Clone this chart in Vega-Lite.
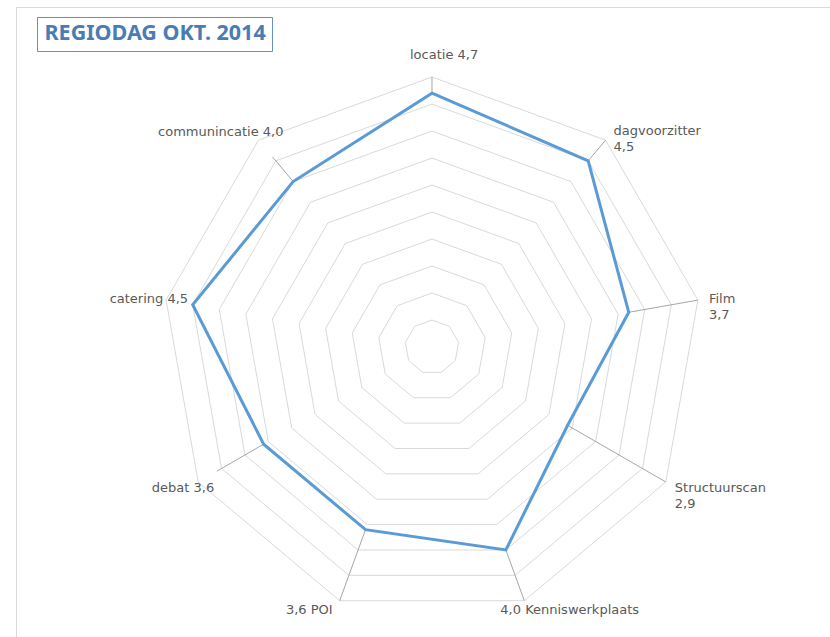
{
  "$schema": "https://vega.github.io/schema/vega-lite/v6.json",
  "width": 814,
  "height": 630,
  "autosize": {"type": "none"},
  "padding": {"left": 16, "top": 7, "right": 0, "bottom": 0},
  "background": "white",
  "config": {
    "view": {"stroke": "#d9d9d9", "strokeWidth": 1},
    "text": {"font": "DejaVu Sans", "fontSize": 13, "fill": "#595959", "baseline": "middle", "lineHeight": 16}
  },
  "datasets": {
    "scores": [
      {"item": "locatie", "score": 4.7},
      {"item": "dagvoorzitter", "score": 4.5},
      {"item": "Film", "score": 3.7},
      {"item": "Structuurscan", "score": 2.9},
      {"item": "Kenniswerkplaats", "score": 4.0},
      {"item": "POI", "score": 3.6},
      {"item": "debat", "score": 3.6},
      {"item": "catering", "score": 4.5},
      {"item": "communincatie", "score": 4.0}
    ],
    "rings": [
      {"level": 0.5, "spoke": [0, 1, 2, 3, 4, 5, 6, 7, 8]},
      {"level": 1.0, "spoke": [0, 1, 2, 3, 4, 5, 6, 7, 8]},
      {"level": 1.5, "spoke": [0, 1, 2, 3, 4, 5, 6, 7, 8]},
      {"level": 2.0, "spoke": [0, 1, 2, 3, 4, 5, 6, 7, 8]},
      {"level": 2.5, "spoke": [0, 1, 2, 3, 4, 5, 6, 7, 8]},
      {"level": 3.0, "spoke": [0, 1, 2, 3, 4, 5, 6, 7, 8]},
      {"level": 3.5, "spoke": [0, 1, 2, 3, 4, 5, 6, 7, 8]},
      {"level": 4.0, "spoke": [0, 1, 2, 3, 4, 5, 6, 7, 8]},
      {"level": 4.5, "spoke": [0, 1, 2, 3, 4, 5, 6, 7, 8]},
      {"level": 5.0, "spoke": [0, 1, 2, 3, 4, 5, 6, 7, 8]}
    ]
  },
  "layer": [
    {
      "data": {"name": "rings"},
      "transform": [
        {"flatten": ["spoke"]},
        {"calculate": "datum.spoke * 2 * PI / 9", "as": "ang"},
        {"calculate": "datum.level * sin(datum.ang)", "as": "rx"},
        {"calculate": "datum.level * cos(datum.ang)", "as": "ry"}
      ],
      "mark": {"type": "line", "interpolate": "linear-closed", "color": "#d9d9d9", "strokeWidth": 1},
      "encoding": {
        "x": {"field": "rx", "type": "quantitative", "scale": {"domain": [-7.7037, 7.3704], "nice": false, "zero": false}, "axis": null},
        "y": {"field": "ry", "type": "quantitative", "scale": {"domain": [-5.3704, 6.2963], "nice": false, "zero": false}, "axis": null},
        "detail": {"field": "level", "type": "quantitative"},
        "order": {"field": "spoke", "type": "quantitative"}
      }
    },
    {
      "data": {"name": "scores"},
      "transform": [
        {"window": [{"op": "row_number", "as": "rn"}]},
        {"calculate": "(datum.rn - 1) * 2 * PI / 9", "as": "ang"},
        {"calculate": "datum.score * sin(datum.ang)", "as": "px"},
        {"calculate": "datum.score * cos(datum.ang)", "as": "py"},
        {"calculate": "5 * sin(datum.ang)", "as": "lx"},
        {"calculate": "5 * cos(datum.ang)", "as": "ly"},
        {"calculate": "replace(format(datum.score, '.1f'), '.', ',')", "as": "val"},
        {"calculate": "datum.item + ' ' + datum.val", "as": "labA"},
        {"calculate": "datum.item + '\\n' + datum.val", "as": "labB"},
        {"calculate": "datum.val + ' ' + datum.item", "as": "labC"}
      ],
      "layer": [
        {
          "transform": [
            {"filter": "datum.item !== 'catering'"},
            {"calculate": "datum.rn >= 7 ? 4.6 : 5.0", "as": "le"},
            {"calculate": "datum.le * sin(datum.ang)", "as": "ex"},
            {"calculate": "datum.le * cos(datum.ang)", "as": "ey"}
          ],
          "mark": {"type": "rule", "color": "#a6a6a6", "strokeWidth": 1},
          "encoding": {
            "x": {"field": "px", "type": "quantitative", "scale": {"domain": [-7.7037, 7.3704], "nice": false, "zero": false}, "axis": null},
            "y": {"field": "py", "type": "quantitative", "scale": {"domain": [-5.3704, 6.2963], "nice": false, "zero": false}, "axis": null},
            "x2": {"field": "ex"},
            "y2": {"field": "ey"}
          }
        },
        {
          "mark": {"type": "line", "interpolate": "linear-closed", "strokeWidth": 3},
          "encoding": {
            "x": {"field": "px", "type": "quantitative", "scale": {"domain": [-7.7037, 7.3704], "nice": false, "zero": false}, "axis": null},
            "y": {"field": "py", "type": "quantitative", "scale": {"domain": [-5.3704, 6.2963], "nice": false, "zero": false}, "axis": null},
            "order": {"field": "rn", "type": "quantitative"},
            "color": {
              "datum": "REGIODAG OKT. 2014",
              "type": "nominal",
              "scale": {"range": ["#5b9bd5"]},
              "legend": {
                "title": null,
                "orient": "none",
                "legendX": 21,
                "legendY": 10,
                "padding": 6,
                "strokeColor": "#6a8fc4",
                "fillColor": "white",
                "cornerRadius": 0,
                "symbolType": "circle",
                "symbolSize": 0,
                "symbolStrokeWidth": 0,
                "symbolOpacity": 0,
                "labelOffset": -20,
                "labelFont": "Noto Sans",
                "labelFontWeight": "bold",
                "labelFontSize": 21.5,
                "labelColor": "#4a7bb7",
                "labelLimit": 500
              }
            }
          }
        },
        {
          "transform": [{"filter": "datum.rn == 1"}],
          "mark": {"type": "text", "align": "left", "dx": -22, "dy": -22},
          "encoding": {
            "x": {"field": "lx", "type": "quantitative", "scale": {"domain": [-7.7037, 7.3704], "nice": false, "zero": false}, "axis": null},
            "y": {"field": "ly", "type": "quantitative", "scale": {"domain": [-5.3704, 6.2963], "nice": false, "zero": false}, "axis": null},
            "text": {"field": "labA"}
          }
        },
        {
          "transform": [{"filter": "datum.rn == 2"}],
          "mark": {"type": "text", "align": "left", "dx": 8, "dy": -9, "lineBreak": "\n"},
          "encoding": {
            "x": {"field": "lx", "type": "quantitative", "scale": {"domain": [-7.7037, 7.3704], "nice": false, "zero": false}, "axis": null},
            "y": {"field": "ly", "type": "quantitative", "scale": {"domain": [-5.3704, 6.2963], "nice": false, "zero": false}, "axis": null},
            "text": {"field": "labB"}
          }
        },
        {
          "transform": [{"filter": "datum.rn == 3"}],
          "mark": {"type": "text", "align": "left", "dx": 11, "dy": -1, "lineBreak": "\n"},
          "encoding": {
            "x": {"field": "lx", "type": "quantitative", "scale": {"domain": [-7.7037, 7.3704], "nice": false, "zero": false}, "axis": null},
            "y": {"field": "ly", "type": "quantitative", "scale": {"domain": [-5.3704, 6.2963], "nice": false, "zero": false}, "axis": null},
            "text": {"field": "labB"}
          }
        },
        {
          "transform": [{"filter": "datum.rn == 4"}],
          "mark": {"type": "text", "align": "left", "dx": 9, "dy": 6, "lineBreak": "\n"},
          "encoding": {
            "x": {"field": "lx", "type": "quantitative", "scale": {"domain": [-7.7037, 7.3704], "nice": false, "zero": false}, "axis": null},
            "y": {"field": "ly", "type": "quantitative", "scale": {"domain": [-5.3704, 6.2963], "nice": false, "zero": false}, "axis": null},
            "text": {"field": "labB"}
          }
        },
        {
          "transform": [{"filter": "datum.rn == 5"}],
          "mark": {"type": "text", "align": "left", "dx": -24, "dy": 9},
          "encoding": {
            "x": {"field": "lx", "type": "quantitative", "scale": {"domain": [-7.7037, 7.3704], "nice": false, "zero": false}, "axis": null},
            "y": {"field": "ly", "type": "quantitative", "scale": {"domain": [-5.3704, 6.2963], "nice": false, "zero": false}, "axis": null},
            "text": {"field": "labC"}
          }
        },
        {
          "transform": [{"filter": "datum.rn == 6"}],
          "mark": {"type": "text", "align": "right", "dx": -7, "dy": 9},
          "encoding": {
            "x": {"field": "lx", "type": "quantitative", "scale": {"domain": [-7.7037, 7.3704], "nice": false, "zero": false}, "axis": null},
            "y": {"field": "ly", "type": "quantitative", "scale": {"domain": [-5.3704, 6.2963], "nice": false, "zero": false}, "axis": null},
            "text": {"field": "labC"}
          }
        },
        {
          "transform": [{"filter": "datum.rn == 7"}],
          "mark": {"type": "text", "align": "right", "dx": 16, "dy": 6},
          "encoding": {
            "x": {"field": "lx", "type": "quantitative", "scale": {"domain": [-7.7037, 7.3704], "nice": false, "zero": false}, "axis": null},
            "y": {"field": "ly", "type": "quantitative", "scale": {"domain": [-5.3704, 6.2963], "nice": false, "zero": false}, "axis": null},
            "text": {"field": "labA"}
          }
        },
        {
          "transform": [{"filter": "datum.rn == 8"}],
          "mark": {"type": "text", "align": "right", "dx": 22, "dy": -1},
          "encoding": {
            "x": {"field": "lx", "type": "quantitative", "scale": {"domain": [-7.7037, 7.3704], "nice": false, "zero": false}, "axis": null},
            "y": {"field": "ly", "type": "quantitative", "scale": {"domain": [-5.3704, 6.2963], "nice": false, "zero": false}, "axis": null},
            "text": {"field": "labA"}
          }
        },
        {
          "transform": [{"filter": "datum.rn == 9"}],
          "mark": {"type": "text", "align": "right", "dx": 25, "dy": -8},
          "encoding": {
            "x": {"field": "lx", "type": "quantitative", "scale": {"domain": [-7.7037, 7.3704], "nice": false, "zero": false}, "axis": null},
            "y": {"field": "ly", "type": "quantitative", "scale": {"domain": [-5.3704, 6.2963], "nice": false, "zero": false}, "axis": null},
            "text": {"field": "labA"}
          }
        }
      ]
    }
  ]
}
